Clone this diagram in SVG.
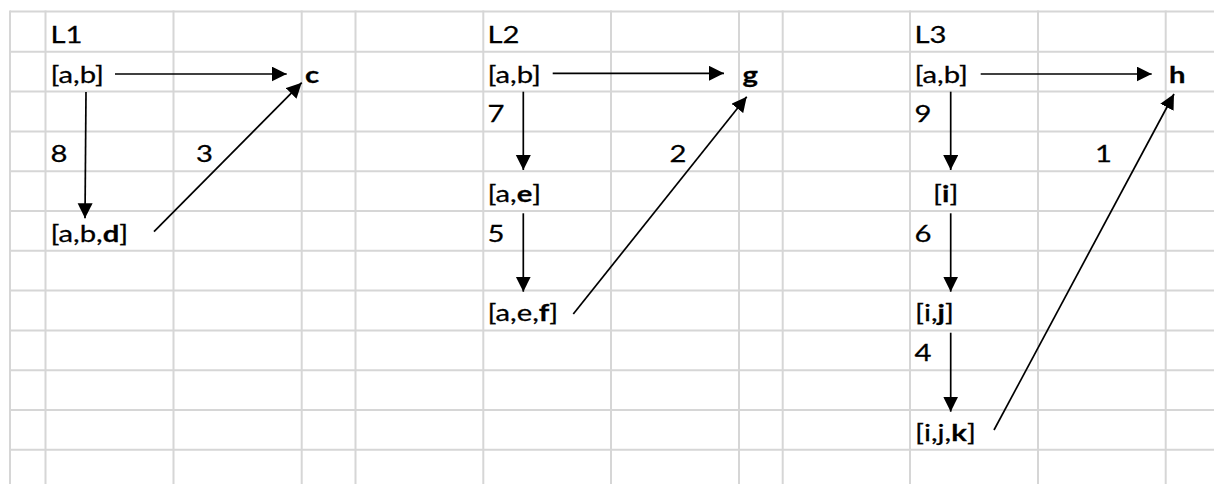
<svg xmlns="http://www.w3.org/2000/svg" width="1214" height="484" viewBox="0 0 1214 484">
<style>
.grid line{stroke:#d6d6d6;stroke-width:2}
.t{font-family:Lato,"Liberation Sans",sans-serif;font-size:22.5px;fill:#000;stroke:#000;stroke-width:0.25}
.b{font-weight:bold}
.c{stroke:#000;stroke-width:1.7;fill:none;marker-end:url(#ah)}
</style>
<defs>
<marker id="ah" markerUnits="userSpaceOnUse" markerWidth="16" markerHeight="16" refX="15" refY="7.5" orient="auto" viewBox="0 0 16 16">
<path d="M0,0 L15,7.5 L0,15 z" fill="#000"/>
</marker>
</defs>
<rect width="1214" height="484" fill="#fff"/>
<g class="grid">
<line x1="10" y1="11.5" x2="1214" y2="11.5"/>
<line x1="10" y1="51.8" x2="1214" y2="51.8"/>
<line x1="10" y1="91.6" x2="1214" y2="91.6"/>
<line x1="10" y1="131.4" x2="1214" y2="131.4"/>
<line x1="10" y1="171.2" x2="1214" y2="171.2"/>
<line x1="10" y1="211" x2="1214" y2="211"/>
<line x1="10" y1="250.8" x2="1214" y2="250.8"/>
<line x1="10" y1="290.6" x2="1214" y2="290.6"/>
<line x1="10" y1="330.4" x2="1214" y2="330.4"/>
<line x1="10" y1="370.2" x2="1214" y2="370.2"/>
<line x1="10" y1="410" x2="1214" y2="410"/>
<line x1="10" y1="449.8" x2="1214" y2="449.8"/>
<line x1="10" y1="10.5" x2="10" y2="484"/>
<line x1="45.5" y1="10.5" x2="45.5" y2="484"/>
<line x1="173.5" y1="10.5" x2="173.5" y2="484"/>
<line x1="301.7" y1="10.5" x2="301.7" y2="484"/>
<line x1="355.5" y1="10.5" x2="355.5" y2="484"/>
<line x1="483.3" y1="10.5" x2="483.3" y2="484"/>
<line x1="611" y1="10.5" x2="611" y2="484"/>
<line x1="739" y1="10.5" x2="739" y2="484"/>
<line x1="782.7" y1="10.5" x2="782.7" y2="484"/>
<line x1="910" y1="10.5" x2="910" y2="484"/>
<line x1="1038" y1="10.5" x2="1038" y2="484"/>
<line x1="1165.7" y1="10.5" x2="1165.7" y2="484"/>
</g>
<g id="connectors">
<path class="c" d="M115,74 L286.7,74"/>
<path class="c" d="M86,92 L85,218.3"/>
<path class="c" d="M154,231.7 L301.7,82.7"/>
<path class="c" d="M552.7,73.3 L724,73.3"/>
<path class="c" d="M523.3,91.7 L523.3,170"/>
<path class="c" d="M523.3,213.3 L523.3,291.7"/>
<path class="c" d="M573.3,314 L746.7,96.7"/>
<path class="c" d="M980.7,74 L1151.7,74"/>
<path class="c" d="M950.7,91.7 L950.7,170"/>
<path class="c" d="M950.7,213.3 L950.7,291.7"/>
<path class="c" d="M950.7,332.7 L950.7,411.7"/>
<path class="c" d="M994,430 L1174,94"/>
<text class="t" transform="translate(50.5,162.2) scale(1.3,1)">8</text>
<text class="t" transform="translate(196,162.2) scale(1.3,1)">3</text>
<text class="t" transform="translate(487.5,122.4) scale(1.3,1)">7</text>
<text class="t" transform="translate(669.5,162.2) scale(1.3,1)">2</text>
<text class="t" transform="translate(487.5,241.8) scale(1.3,1)">5</text>
<text class="t" transform="translate(914.5,122.4) scale(1.3,1)">9</text>
<text class="t" transform="translate(1095,162.2) scale(1.3,1)">1</text>
<text class="t" transform="translate(914.5,241.8) scale(1.3,1)">6</text>
<text class="t" transform="translate(914.5,361.2) scale(1.3,1)">4</text>
</g>
<g id="L1">
<text class="t" transform="translate(50.5,42.8) scale(1.3,1)">L1</text>
</g>
<g id="L1_ab"><text class="t" transform="translate(50.5,82.6) scale(1.3,1)">[a,b]</text></g>
<g id="L1_c"><text class="t b" transform="translate(305,82.6) scale(1.3,1)">c</text></g>
<g id="L1_abd"><text class="t" transform="translate(50.5,241.8) scale(1.3,1)">[a,b,<tspan class="b">d</tspan>]</text></g>
<g id="L2"><text class="t" transform="translate(487.5,42.8) scale(1.3,1)">L2</text></g>
<g id="L2_ab"><text class="t" transform="translate(487.5,82.6) scale(1.3,1)">[a,b]</text></g>
<g id="L2_g"><text class="t b" transform="translate(742.5,82.6) scale(1.3,1)">g</text></g>
<g id="L2_ae"><text class="t" transform="translate(487.5,202) scale(1.3,1)">[a,<tspan class="b">e</tspan>]</text></g>
<g id="L2_aef"><text class="t" transform="translate(487.5,321.4) scale(1.3,1)">[a,e,<tspan class="b">f</tspan>]</text></g>
<g id="L3"><text class="t" transform="translate(914.5,42.8) scale(1.3,1)">L3</text></g>
<g id="L3_ab"><text class="t" transform="translate(914.5,82.6) scale(1.3,1)">[a,b]</text></g>
<g id="L3_h"><text class="t b" transform="translate(1169,82.6) scale(1.3,1)">h</text></g>
<g id="L3_i"><text class="t" transform="translate(933,202) scale(1.3,1)">[<tspan class="b">i</tspan>]</text></g>
<g id="L3_ij"><text class="t" transform="translate(915,321.4) scale(1.3,1)">[i,<tspan class="b">j</tspan>]</text></g>
<g id="L3_ijk"><text class="t" transform="translate(915,440.8) scale(1.3,1)">[i,j,<tspan class="b">k</tspan>]</text></g>
</svg>
